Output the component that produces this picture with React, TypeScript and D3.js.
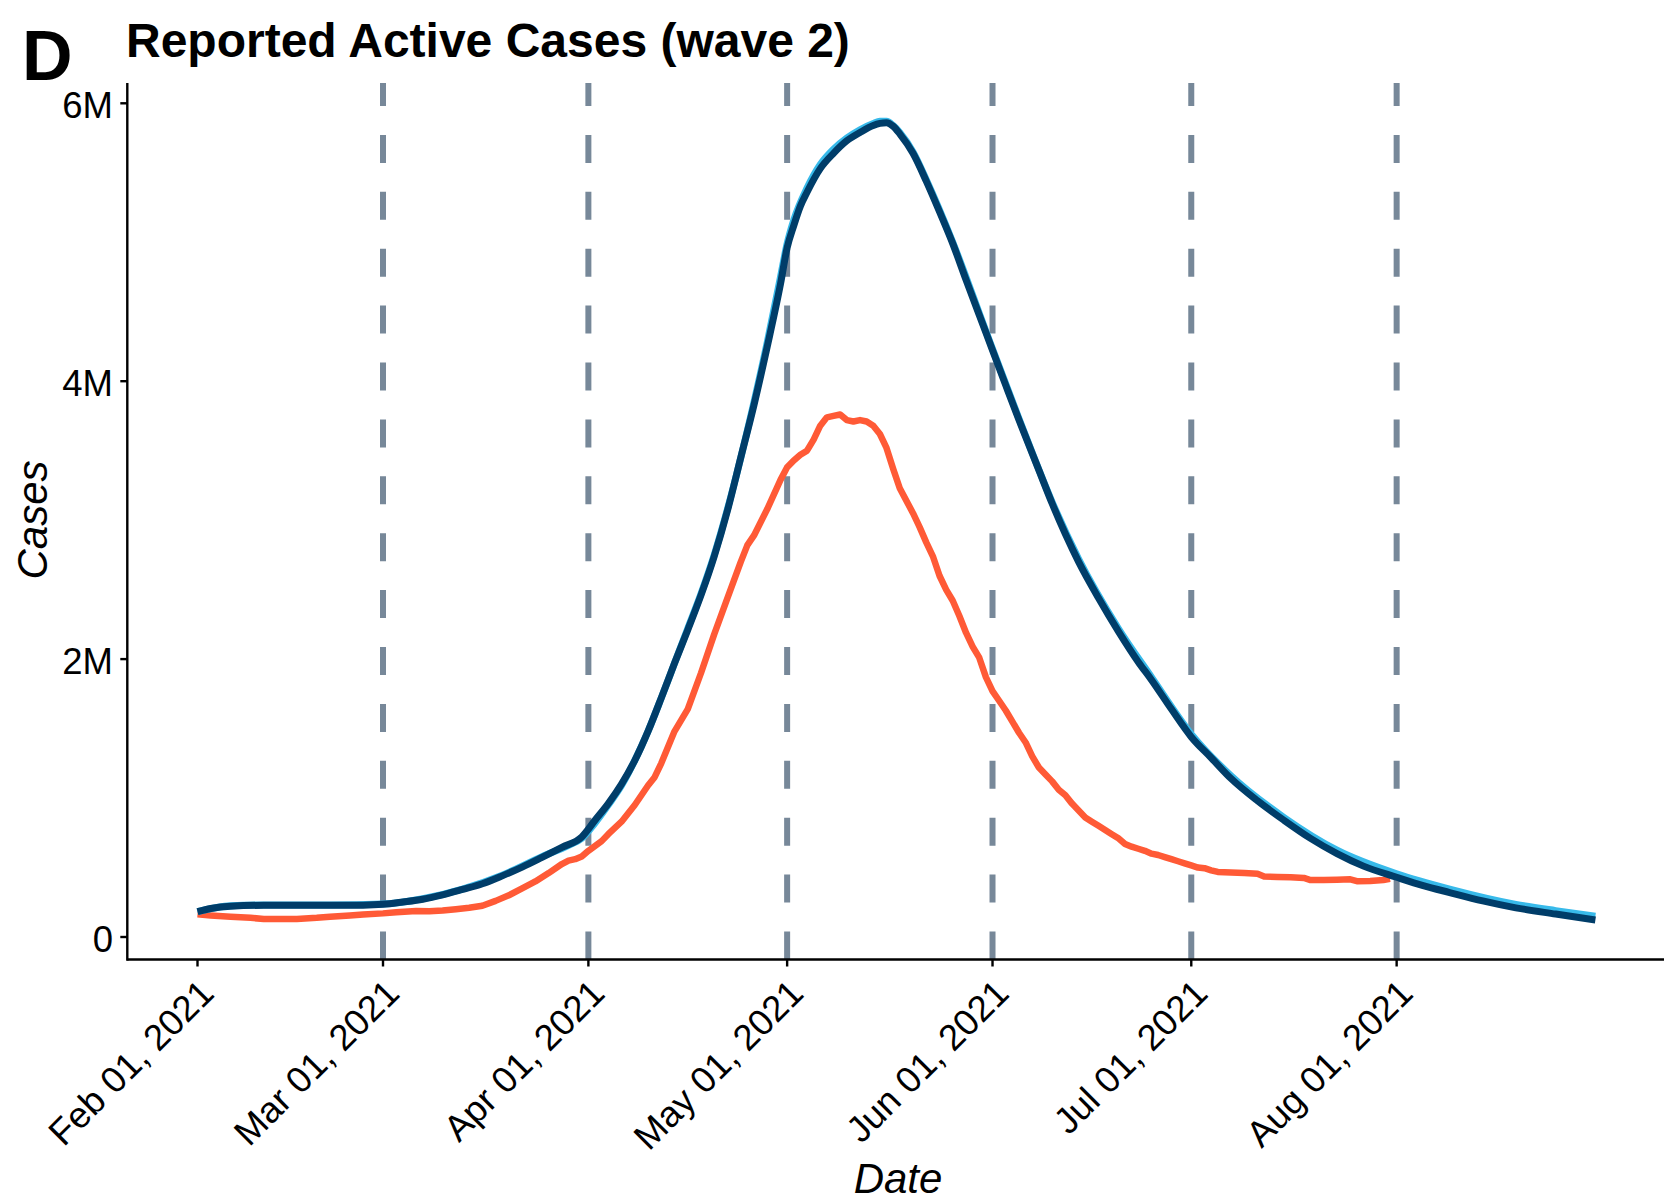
import React from "react";
import * as d3 from "d3";

// ---- data (values in millions of cases; days counted from 2021-02-01) ----
const START_DATE = "2021-02-01";

const reportedDays = [0, 2, 5, 8, 10, 13, 15, 18, 20, 23, 25, 28, 30, 33, 35, 37, 39, 41, 43, 45, 47, 49, 51, 53, 55, 56, 57, 58, 59, 61, 62, 64, 66, 67, 68, 69, 70, 72, 74, 76, 78, 80, 82, 83, 84, 86, 88, 89, 90, 91, 92, 93, 94, 95, 96, 97, 98, 99, 100, 101, 102, 103, 104, 105, 106, 107, 108, 109, 110, 111, 112, 113, 114, 115, 116, 117, 118, 119, 120, 121, 122, 123, 124, 125, 126, 127, 128, 129, 130, 131, 132, 133, 134, 135, 136, 137, 138, 139, 140, 141, 142, 143, 144, 145, 146, 147, 148, 149, 150, 151, 152, 153, 154, 156, 158, 160, 161, 163, 165, 167, 168, 170, 172, 174, 175, 177, 179, 180];
const reportedCases = [0.163, 0.155, 0.146, 0.138, 0.13, 0.13, 0.13, 0.138, 0.146, 0.155, 0.162, 0.17, 0.178, 0.187, 0.185, 0.19, 0.2, 0.21, 0.225, 0.26, 0.3, 0.35, 0.4, 0.46, 0.525, 0.55, 0.56, 0.58, 0.62, 0.69, 0.74, 0.83, 0.95, 1.02, 1.09, 1.15, 1.25, 1.48, 1.64, 1.9, 2.18, 2.44, 2.7, 2.82, 2.89, 3.08, 3.29, 3.38, 3.43, 3.47, 3.5, 3.58, 3.68, 3.74, 3.75, 3.76, 3.72, 3.71, 3.72, 3.71, 3.68, 3.62, 3.52, 3.37, 3.23, 3.14, 3.05, 2.95, 2.84, 2.74, 2.6, 2.5, 2.42, 2.31, 2.19, 2.09, 2.01, 1.87, 1.77, 1.7, 1.63, 1.55, 1.47, 1.4, 1.3, 1.22, 1.17, 1.12, 1.06, 1.02, 0.96, 0.91, 0.86, 0.83, 0.8, 0.77, 0.74, 0.71, 0.67, 0.65, 0.635, 0.62, 0.6, 0.59, 0.575, 0.56, 0.545, 0.53, 0.515, 0.5, 0.495, 0.48, 0.468, 0.465, 0.46, 0.455, 0.435, 0.432, 0.43, 0.425, 0.41, 0.41, 0.412, 0.415, 0.402, 0.403, 0.41, 0.418];

const modelADays = [0, 5, 10, 20, 28, 34, 40, 46, 52, 56, 58, 60, 62, 64, 66, 68, 70, 72, 74, 76, 78, 80, 84, 86, 88, 89, 90, 92, 94, 96, 98, 100, 102, 103, 104, 105, 106, 108, 110, 114, 119, 124, 129, 133, 139, 144, 150, 156, 164, 172, 181, 189, 199, 205, 211];
const modelACases = [0.182, 0.225, 0.23, 0.23, 0.237, 0.275, 0.345, 0.445, 0.578, 0.66, 0.71, 0.82, 0.95, 1.09, 1.27, 1.48, 1.72, 1.97, 2.22, 2.47, 2.75, 3.08, 3.85, 4.28, 4.75, 4.99, 5.16, 5.39, 5.56, 5.67, 5.75, 5.81, 5.855, 5.87, 5.87, 5.84, 5.79, 5.65, 5.45, 5.0, 4.36, 3.73, 3.13, 2.72, 2.22, 1.87, 1.46, 1.16, 0.86, 0.625, 0.455, 0.345, 0.235, 0.19, 0.15];

const modelBDays = [0, 2, 5, 10, 15, 20, 25, 28, 31, 34, 37, 40, 43, 46, 49, 52, 55, 58, 60, 62, 64, 66, 68, 70, 72, 74, 76, 78, 80, 82, 84, 86, 88, 89, 90, 91, 92, 94, 96, 98, 100, 102, 103, 104, 105, 106, 108, 110, 112, 114, 116, 119, 122, 124, 127, 129, 131, 133, 136, 139, 142, 144, 147, 150, 153, 156, 160, 164, 168, 172, 176, 181, 185, 189, 194, 199, 205, 211];
const modelBCases = [0.182, 0.205, 0.222, 0.228, 0.228, 0.228, 0.229, 0.235, 0.252, 0.272, 0.303, 0.342, 0.383, 0.44, 0.503, 0.573, 0.645, 0.72, 0.84, 0.96, 1.1, 1.27, 1.48, 1.72, 1.97, 2.21, 2.46, 2.74, 3.07, 3.45, 3.83, 4.25, 4.7, 4.96, 5.12, 5.26, 5.36, 5.53, 5.64, 5.73, 5.79, 5.84, 5.855, 5.86, 5.835, 5.78, 5.64, 5.44, 5.22, 4.99, 4.73, 4.35, 3.97, 3.72, 3.36, 3.12, 2.9, 2.7, 2.44, 2.2, 1.98, 1.85, 1.64, 1.44, 1.29, 1.14, 0.98, 0.84, 0.71, 0.6, 0.51, 0.43, 0.37, 0.32, 0.26, 0.21, 0.165, 0.122];

const xTickDates = ["2021-02-01", "2021-03-01", "2021-04-01", "2021-05-01", "2021-06-01", "2021-07-01", "2021-08-01"];
const vlineDates = ["2021-03-01", "2021-04-01", "2021-05-01", "2021-06-01", "2021-07-01", "2021-08-01"];
const yTickValues = [0, 2, 4, 6];
const yTickLabels = ["0", "2M", "4M", "6M"];

const TITLE = "Reported Active Cases (wave 2)";
const PANEL_LABEL = "D";
const X_TITLE = "Date";
const Y_TITLE = "Cases";

// ---- styles ----
const FONT = "'Liberation Sans', Arial, Helvetica, sans-serif";
const COL_REPORTED = "#FF5A36";
const COL_MODEL_A = "#38BAEA";
const COL_MODEL_B = "#003D69";
const COL_VLINE = "#778899";

const W = 1664;
const H = 1202;
const PANEL = { left: 127.3, right: 1664, top: 83, bottom: 959.5 };

const parse = d3.utcParse("%Y-%m-%d");
const start = parse(START_DATE) as Date;
const dayToDate = (d: number) => d3.utcDay.offset(start, d);

export default function App() {
  const x = d3
    .scaleUtc()
    .domain([start, dayToDate(211)])
    .range([197.5, 1595.4]);
  const y = d3.scaleLinear().domain([0, 6]).range([937, 103.3]);

  const series = (days: number[], vals: number[]) =>
    days.map((d, i) => ({ date: dayToDate(d), v: vals[i] }));

  const smooth = d3
    .line<{ date: Date; v: number }>()
    .x((p) => x(p.date))
    .y((p) => y(p.v))
    .curve(d3.curveMonotoneX);
  const jagged = d3
    .line<{ date: Date; v: number }>()
    .x((p) => x(p.date))
    .y((p) => y(p.v))
    .curve(d3.curveLinear);

  const fmt = d3.utcFormat("%b %d, %Y");

  return (
    <svg
      width={W}
      height={H}
      style={{ position: "absolute", left: 0, top: 0, background: "#fff" }}
      fontFamily={FONT}
    >
      <rect x={0} y={0} width={W} height={H} fill="#fff" />

      {/* dashed vertical reference lines */}
      {vlineDates.map((ds) => {
        const xv = x(parse(ds) as Date);
        return (
          <line
            key={ds}
            x1={xv}
            x2={xv}
            y1={PANEL.bottom}
            y2={PANEL.top}
            stroke={COL_VLINE}
            strokeWidth={6}
            strokeDasharray="28 28.9"
          />
        );
      })}

      {/* series */}
      <path
        d={jagged(series(reportedDays, reportedCases)) || ""}
        fill="none"
        stroke={COL_REPORTED}
        strokeWidth={6.5}
        strokeLinejoin="round"
      />
      <path
        d={smooth(series(modelADays, modelACases)) || ""}
        fill="none"
        stroke={COL_MODEL_A}
        strokeWidth={7}
      />
      <path
        d={smooth(series(modelBDays, modelBCases)) || ""}
        fill="none"
        stroke={COL_MODEL_B}
        strokeWidth={7}
      />

      {/* axes */}
      <line x1={PANEL.left} x2={PANEL.right} y1={PANEL.bottom} y2={PANEL.bottom} stroke="#000" strokeWidth={2.4} />
      <line x1={PANEL.left} x2={PANEL.left} y1={PANEL.top} y2={PANEL.bottom + 1.2} stroke="#000" strokeWidth={2.4} />

      {xTickDates.map((ds) => {
        const d = parse(ds) as Date;
        const xv = x(d);
        return (
          <g key={ds}>
            <line x1={xv} x2={xv} y1={PANEL.bottom} y2={PANEL.bottom + 7} stroke="#000" strokeWidth={2.4} />
            <text
              transform={`translate(${xv},977) rotate(-45)`}
              textAnchor="end"
              dy="0.71em"
              fontSize={36.5}
              fill="#000"
            >
              {fmt(d)}
            </text>
          </g>
        );
      })}

      {yTickValues.map((v, i) => {
        const yv = y(v);
        return (
          <g key={v}>
            <line x1={PANEL.left - 7} x2={PANEL.left} y1={yv} y2={yv} stroke="#000" strokeWidth={2.4} />
            <text x={113} y={yv + 15} textAnchor="end" fontSize={36.5} fill="#000">
              {yTickLabels[i]}
            </text>
          </g>
        );
      })}

      {/* axis titles */}
      <text x={898} y={1193} textAnchor="middle" fontSize={42} fontStyle="italic" fill="#000">
        {X_TITLE}
      </text>
      <text
        transform="translate(47,520) rotate(-90)"
        textAnchor="middle"
        fontSize={42}
        fontStyle="italic"
        fill="#000"
      >
        {Y_TITLE}
      </text>

      {/* title and panel label */}
      <text x={126} y={57} fontSize={48} fontWeight="bold" fill="#000">
        {TITLE}
      </text>
      <text x={22} y={80} fontSize={70} fontWeight="bold" fill="#000">
        {PANEL_LABEL}
      </text>
    </svg>
  );
}
